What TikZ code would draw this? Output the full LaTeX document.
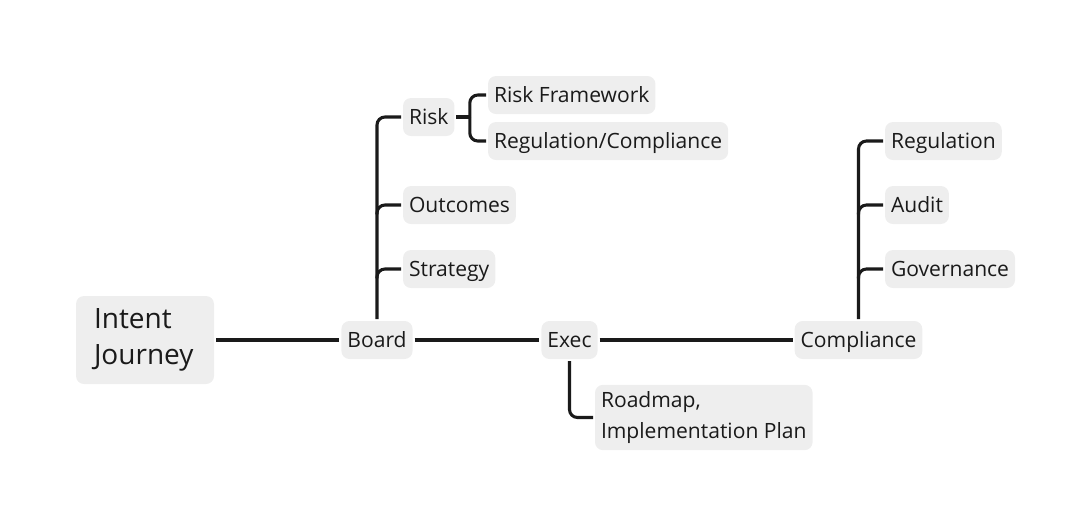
\documentclass[tikz,border=0pt]{standalone}
\usepackage{fontspec}
\setmainfont{Open Sans}
\usepackage{xcolor}
\definecolor{boxgray}{HTML}{EEEEEE}
\definecolor{inkdark}{HTML}{1A1A1A}

\begin{document}
\begin{tikzpicture}[x=0.75pt, y=-0.75pt,
        topic/.style={fill=boxgray, rounded corners=6pt, inner xsep=4.5pt, inner ysep=0pt, minimum height=28.5pt, text height=11.3pt, text depth=0pt, text=inkdark, font=\fontsize{15.8}{18}\selectfont, outer sep=1.5pt},
        link/.style={draw=inkdark, line width=2.3pt, rounded corners=6pt}]
        \useasboundingbox (0,0) rectangle (1092,526);

        \node[topic, text width=76.5pt, inner xsep=13.5pt, minimum height=66pt, text height=, text depth=, align=left, font=\fontsize{21}{27}\selectfont] (intent) at (145,340) {Intent\\Journey};
        \node[topic] (board) at (377,340) {Board};
        \node[topic] (exec) at (569.5,340) {Exec};
        \node[topic] (compliance) at (858.5,340) {Compliance};

        \node[topic, anchor=west] (risk) at (401,117) {Risk};
        \node[topic, anchor=west] (outcomes) at (401,205) {Outcomes};
        \node[topic, anchor=west] (strategy) at (401,269) {Strategy};
        \node[topic, anchor=west] (riskfw) at (486,95) {Risk Framework};
        \node[topic, anchor=west] (regcomp) at (486,141) {Regulation/Compliance};

        \node[topic, anchor=west, align=left, minimum height=49pt, text height=, text depth=, font=\fontsize{15.8}{23.5}\selectfont] (roadmap) at (593,417.5) {Roadmap,\\Implementation Plan};

        \node[topic, anchor=west] (regulation) at (883,141) {Regulation};
        \node[topic, anchor=west] (audit) at (883,205) {Audit};
        \node[topic, anchor=west] (governance) at (883,269) {Governance};

        \draw[link] (intent) -- (board);
        \draw[link] (board) -- (exec);
        \draw[link] (exec) -- (compliance);

        \draw[link] (board.north) |- (risk.west);
        \draw[link] ([yshift=-7pt]board.north |- outcomes.west) |- (outcomes.west);
        \draw[link] ([yshift=-7pt]board.north |- strategy.west) |- (strategy.west);

        \coordinate (riskfork) at ([xshift=10pt]risk.east);
        \draw[link] (risk.east) -- (riskfork);
        \draw[link] (riskfork) |- (riskfw.west);
        \draw[link] (riskfork) |- (regcomp.west);

        \draw[link] (exec.south) |- (roadmap.west);

        \draw[link] (compliance.north) |- (regulation.west);
        \draw[link] ([yshift=-7pt]compliance.north |- audit.west) |- (audit.west);
        \draw[link] ([yshift=-7pt]compliance.north |- governance.west) |- (governance.west);
    \end{tikzpicture}
\end{document}
